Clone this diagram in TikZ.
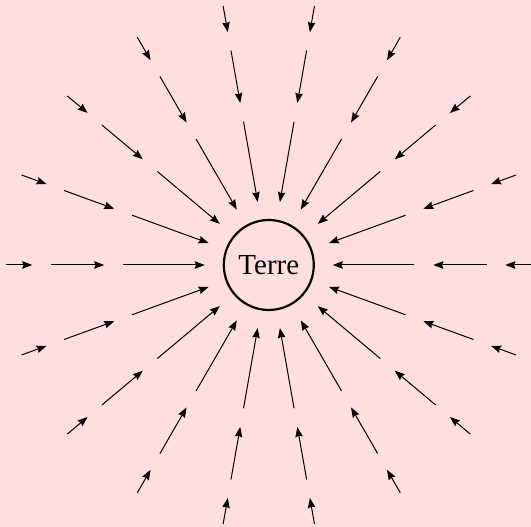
\documentclass[tikz,border=0pt]{standalone}
\usepackage{fontspec}
\setmainfont{Liberation Serif}
\usetikzlibrary{arrows.meta}
\definecolor{bgpink}{RGB}{255,222,224}
\tikzset{
  fieldarrow/.style={line width=1pt,-{Stealth[length=10pt,width=7.5pt,inset=1.2pt]}},
  earth/.style={circle,draw,line width=2.2pt,minimum size=90pt,inner sep=0pt,font=\fontsize{29}{31}\selectfont}
}
\begin{document}
\begin{tikzpicture}[x=1pt,y=1pt]
\fill[bgpink] (-268.8,-262) rectangle (262.2,265);
\useasboundingbox (-268.8,-262) rectangle (262.2,265);
\node[earth] (terre) at (0,0) {Terre};
\foreach \a in {0,20,...,340}{
  \coordinate (o\a s) at (\a:263);
  \coordinate (o\a e) at (\a:236.5);
  \coordinate (m\a s) at (\a:217.8);
  \coordinate (m\a e) at (\a:164.5);
  \coordinate (i\a s) at (\a:145.5);
  \coordinate (i\a e) at (\a:64);
  \draw[fieldarrow] (o\a s) -- (o\a e);
  \draw[fieldarrow] (m\a s) -- (m\a e);
  \draw[fieldarrow] (i\a s) -- (i\a e);
}
\end{tikzpicture}
\end{document}
